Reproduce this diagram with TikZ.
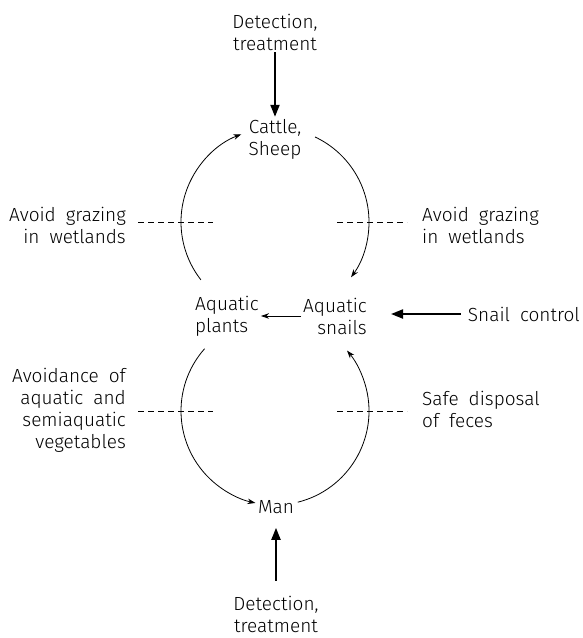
\documentclass[tikz,border=0pt]{standalone}
\usepackage{fontspec}
\setmainfont{Fira Sans Light}
\usetikzlibrary{arrows.meta,calc}
\newcommand\lblfont{\fontsize{19}{22}\selectfont\spaceskip=10pt plus 2pt minus 2pt\relax}
\begin{document}
\begin{tikzpicture}[x=1pt,y=1pt,
  lbl/.style={inner sep=2pt, font=\lblfont},
  cyc/.style={line width=0.8pt,-{Stealth[length=8pt,width=5.5pt]}},
  ctrl/.style={line width=2pt,-{Triangle[length=12pt,width=9pt]}},
  barrier/.style={line width=0.8pt,dash pattern=on 6pt off 4pt}]
\useasboundingbox (0,0) rectangle (583,-638);
\node[lbl,align=center] (topdet) at (275,-32) {Detection,\\treatment};
\node[lbl,align=center] (cattle) at (275,-139) {Cattle,\\Sheep};
\node[lbl,align=left,anchor=west] (plants) at (193,-316) {Aquatic\\plants};
\node[lbl,align=right,anchor=east] (snails) at (369,-316) {Aquatic\\snails};
\node[lbl] (man) at (276,-507) {Man};
\node[lbl,inner sep=1pt,align=center] (botdet) at (276,-614) {Detection,\\treatment};
\node[lbl,anchor=east] (snailctl) at (582,-314) {Snail control};
\node[lbl,align=right,anchor=east] (avl) at (128,-225) {Avoid grazing\\in wetlands};
\node[lbl,align=left,anchor=west] (avr) at (420,-225) {Avoid grazing\\in wetlands};
\node[lbl,align=right,anchor=east] (veg) at (128,-410) {Avoidance of\\aquatic and\\semiaquatic\\vegetables};
\node[lbl,align=left,anchor=west] (feces) at (420,-409) {Safe disposal\\of feces};
\coordinate (U) at (275,-222);
\coordinate (L) at (275,-411);
\coordinate (ul) at ($(U)+(218:94pt)$);
\coordinate (ur) at ($(U)+(64.8:94pt)$);
\coordinate (ll) at ($(L)+(138.5:94pt)$);
\coordinate (lr) at ($(L)+(-76:94pt)$);
\draw[cyc] (ul) arc[start angle=218,end angle=111,radius=94pt];
\draw[cyc] (ur) arc[start angle=64.8,end angle=-36,radius=94pt];
\draw[cyc] (ll) arc[start angle=138.5,end angle=258,radius=94pt];
\draw[cyc] (lr) arc[start angle=-76,end angle=40,radius=94pt];
\draw[cyc] (snails.west) -- (plants.east);
\draw[ctrl,shorten <=5pt,shorten >=22pt] (snailctl.west) -- (snailctl.west -| snails.east);
\draw[ctrl] (topdet.south) -- (cattle.north);
\draw[ctrl,shorten <=14pt,shorten >=12pt] (botdet.north) -- (man.south);
\draw[barrier] (138,-222) -- (213,-222);
\draw[barrier] (337,-222) -- (407,-222);
\draw[barrier] (138,-411) -- (213,-411);
\draw[barrier] (337,-411) -- (407,-411);
\end{tikzpicture}
\end{document}
